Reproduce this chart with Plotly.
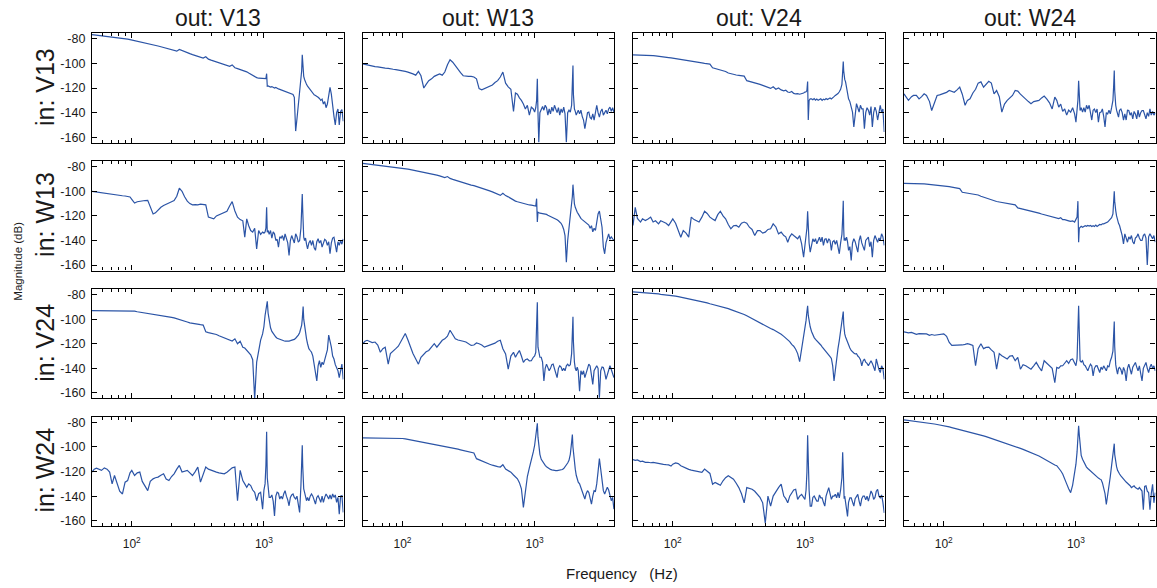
import math
import plotly.graph_objects as go

# ---------------- data ----------------
FREQ_HZ = [
    50, 52, 54, 57, 59, 62, 65, 68, 71, 74, 78, 81, 85, 89, 93, 97,
    100, 105, 110, 115, 120, 126, 132, 138, 145, 151, 158, 166, 174, 182, 191,
    200, 209, 219, 229, 240, 251, 263, 275, 288, 302, 316, 331, 347, 363, 380, 398,
    417, 437, 457, 479, 501, 525, 550, 575, 603, 631, 661, 692,
    716, 741, 767, 794, 822, 851, 881, 912, 944, 977,
    1000, 1020, 1035, 1048, 1060, 1075, 1096,
    1122, 1148, 1175, 1202, 1230, 1259, 1288, 1318, 1349, 1380, 1413, 1445, 1479, 1514, 1549, 1585, 1622, 1660, 1698, 1738, 1778, 1820, 1862,
    1905, 1930, 1950, 1965, 1980, 2000, 2030, 2065, 2100, 2138,
    2188, 2239, 2291, 2344, 2399, 2455, 2512, 2570, 2630, 2692, 2754, 2818, 2884, 2951, 3020, 3090, 3162, 3236, 3311, 3388, 3467, 3548, 3631, 3715, 3802, 3890, 3981,
]

IN_LABELS = ["V13", "W13", "V24", "W24"]
OUT_LABELS = ["V13", "W13", "V24", "W24"]

Y_TICK_VALS = [-160, -140, -120, -100, -80]
Y_TICK_TEXT = ["-160", "-140", "-120", "-100", "-80"]
X_TICK_VALS = [100, 1000]
X_TICK_TEXT = ["10<sup>2</sup>", "10<sup>3</sup>"]
X_MINOR_VALS = [60, 70, 80, 90, 200, 300, 400, 500, 600, 700, 800, 900, 2000, 3000, 4000]

# magnitude (dB), one list per panel: in_<row>_out_<col>
in_v13_out_v13 = [
    -76.5, -76.7, -76.9, -77.1, -77.3, -77.5, -77.8, -78.0, -78.3, -78.6, -78.9, -79.2, -79.5, -79.9, -80.2, -80.6,
    -80.9, -81.3, -81.7, -82.1, -82.5, -83.0, -83.5, -84.0, -84.6, -85.2, -85.8, -86.4, -87.0, -87.6, -88.2,
    -88.8, -89.4, -90.0, -88.6, -89.6, -90.5, -91.3, -92.0, -92.8, -93.5, -94.2, -95.0, -95.6, -94.5, -96.5, -97.3,
    -98.0, -98.7, -99.4, -100.0, -100.7, -101.4, -102.3, -101.2, -103.5, -104.2, -104.8, -105.5,
    -106.0, -106.8, -107.8, -108.8, -109.8, -110.8, -111.5, -112.0, -112.2, -112.3,
    -112.4, -112.4, -112.3, -108.3, -118.5, -118.3, -119.0,
    -119.2, -118.8, -119.6, -120.0, -119.5, -120.3, -120.7, -121.1, -121.5, -121.8, -122.2, -122.5, -122.8, -123.2, -123.6, -124.0, -124.5, -125.2, -127.5, -155.0, -145.0, -134.0, -125.0,
    -116.0, -106.0, -93.0, -100.0, -107.0, -110.5, -113.0, -115.5, -117.0, -118.5,
    -120.0, -122.0, -123.5, -124.5, -125.5, -126.0, -126.5, -127.5, -128.5, -130.0, -129.0, -133.0, -131.0, -136.0, -133.0, -127.0, -119.5, -125.0, -137.0, -143.0, -150.0, -140.0, -137.0, -150.0, -139.0, -137.5, -147.0,
]
in_v13_out_w13 = [
    -100.3, -100.8, -101.2, -101.8, -102.0, -102.5, -102.8, -103.3, -103.5, -103.8, -104.0, -104.5, -104.7, -105.0, -105.3, -105.5,
    -105.8, -106.5, -107.0, -107.5, -108.5, -109.5, -106.5, -110.0, -120.0, -117.0, -114.0, -112.5, -110.5, -109.5, -108.5,
    -109.5, -107.0, -101.0, -97.0, -99.0, -102.0, -104.5, -107.5, -110.0, -110.5, -110.5, -110.5, -111.0, -112.5, -120.5, -121.5,
    -120.5, -119.5, -118.5, -117.5, -115.5, -114.0, -111.0, -107.0, -116.0, -119.0, -121.0, -139.0,
    -124.0, -125.0, -128.0, -130.0, -133.0, -137.0, -134.0, -142.0, -135.5, -137.0,
    -139.5, -136.0, -130.0, -112.5, -140.0, -164.0, -140.0,
    -137.0, -135.0, -138.0, -134.0, -136.0, -142.0, -137.0, -141.0, -135.5, -139.0, -134.0, -137.5, -140.0, -136.0, -142.0, -137.0, -140.0, -135.5, -141.0, -164.0, -140.0, -138.0, -139.5,
    -134.0, -120.0, -101.7, -125.0, -131.5, -137.0, -139.0, -142.0, -140.0, -138.0,
    -141.0, -138.0, -143.0, -146.0, -153.0, -144.0, -140.0, -139.5, -144.0, -145.0, -141.0, -146.0, -139.0, -134.0, -140.0, -143.7, -139.0, -137.0, -142.0, -140.0, -138.0, -141.0, -137.0, -135.5, -139.0, -136.0, -139.6,
]
in_v13_out_v24 = [
    -93.0, -93.0, -93.1, -93.2, -93.2, -93.3, -93.4, -93.5, -93.6, -93.8, -94.0, -94.3, -94.6, -94.9, -95.2, -95.5,
    -95.7, -96.0, -96.3, -96.6, -97.0, -97.4, -97.6, -98.0, -98.5, -98.9, -99.3, -99.6, -100.0, -100.2, -100.5,
    -103.5, -104.0, -104.5, -105.0, -105.7, -106.5, -107.8, -108.5, -109.0, -109.4, -109.7, -110.0, -110.3, -114.0, -114.5, -115.0,
    -115.5, -116.0, -117.0, -117.8, -118.5, -119.2, -120.3, -119.0, -121.0, -120.0, -121.5, -122.2,
    -121.8, -123.2, -123.6, -122.8, -124.3, -124.8, -124.5, -125.0, -124.6, -124.0,
    -123.3, -123.0, -122.0, -114.7, -146.0, -130.0, -128.8,
    -128.8, -129.5, -128.5, -129.8, -129.0, -130.0, -129.5, -128.7, -130.0, -129.0, -129.6, -128.5, -129.3, -128.5, -128.0, -128.8, -127.5, -127.0, -126.0, -125.5, -124.5, -123.0, -121.0,
    -117.0, -107.0, -98.4, -106.0, -110.0, -113.0, -115.0, -120.0, -125.0, -128.8,
    -131.0, -135.0, -139.6, -151.7, -140.0, -132.7, -136.0, -139.6, -134.0, -137.0, -137.0, -153.0, -140.0, -136.0, -138.0, -142.0, -135.0, -151.7, -140.0, -135.5, -139.0, -146.0, -140.0, -134.0, -140.0, -137.0, -155.7,
]
in_v13_out_w24 = [
    -124.7, -127.0, -130.0, -127.0, -126.0, -126.0, -128.8, -127.0, -124.7, -126.0, -131.0, -138.3, -132.0, -126.0, -125.5, -124.7,
    -124.7, -123.5, -122.0, -122.5, -123.4, -121.5, -119.3, -125.0, -134.0, -130.0, -128.8, -124.0, -121.0, -116.0, -115.0,
    -119.3, -117.0, -114.5, -116.0, -124.7, -122.0, -127.0, -139.6, -133.0, -130.0, -128.0, -126.0, -122.0, -122.5, -125.0, -127.4,
    -129.0, -131.0, -132.7, -131.0, -130.5, -130.0, -128.0, -126.5, -129.0, -132.0, -137.0, -127.4,
    -130.0, -135.5, -133.0, -139.0, -137.0, -142.0, -138.0, -139.6, -136.0, -141.0,
    -147.7, -140.0, -130.0, -114.0, -125.0, -138.3, -136.0,
    -139.6, -136.0, -139.6, -134.0, -137.0, -134.0, -141.0, -146.0, -138.0, -137.0, -140.0, -137.0, -147.7, -140.0, -139.6, -137.0, -143.0, -151.7, -140.0, -141.0, -138.0, -141.0, -136.0,
    -130.0, -118.0, -105.7, -122.0, -134.0, -134.0, -138.0, -141.0, -143.7, -138.0,
    -137.0, -140.0, -146.0, -141.0, -146.0, -138.0, -138.3, -142.0, -140.0, -145.0, -139.0, -141.0, -145.0, -138.0, -143.7, -140.0, -138.3, -138.3, -142.0, -145.0, -140.0, -143.0, -137.0, -142.0, -139.0, -142.0, -140.0,
]
in_w13_out_v13 = [
    -100.0, -100.3, -100.7, -101.0, -101.4, -101.6, -102.0, -102.3, -102.6, -102.8, -103.0, -103.3, -103.6, -103.8, -104.2, -104.6,
    -106.5, -109.5, -108.5, -108.0, -107.8, -107.5, -107.3, -112.0, -118.4, -117.5, -115.0, -113.0, -111.6, -110.5, -109.0,
    -108.5, -107.6, -104.0, -97.5, -100.0, -104.5, -108.0, -110.0, -111.0, -110.8, -111.0, -110.5, -110.8, -111.0, -121.0, -122.0,
    -122.4, -120.0, -119.0, -118.4, -117.5, -116.2, -112.0, -108.4, -116.0, -121.0, -123.0, -124.0,
    -137.3, -122.4, -128.0, -131.9, -133.2, -130.0, -146.8, -131.9, -135.0, -133.2,
    -134.0, -133.0, -130.0, -113.0, -133.2, -131.9, -135.0,
    -131.9, -138.0, -133.0, -134.6, -140.0, -139.0, -145.4, -137.0, -138.0, -136.0, -140.0, -134.6, -139.0, -142.0, -152.2, -140.0, -136.0, -138.6, -142.0, -134.6, -137.0, -141.4, -140.0,
    -130.0, -115.0, -102.2, -115.0, -135.0, -137.3, -140.0, -138.0, -143.0, -146.8,
    -142.0, -140.0, -144.0, -140.0, -146.0, -148.0, -141.0, -138.6, -142.0, -140.0, -145.4, -142.0, -139.0, -140.0, -144.0, -141.0, -150.8, -142.0, -138.0, -137.3, -143.0, -149.5, -141.0, -144.0, -140.0, -143.0, -138.6,
]
in_w13_out_w13 = [
    -77.3, -77.5, -77.7, -78.0, -78.2, -78.4, -78.6, -78.9, -79.1, -79.4, -79.7, -80.0, -80.3, -80.5, -80.8, -81.0,
    -81.2, -81.6, -81.9, -82.3, -82.7, -83.0, -83.4, -83.8, -84.4, -84.8, -85.3, -85.8, -86.3, -86.8, -87.5,
    -88.2, -88.8, -88.0, -89.5, -90.3, -91.0, -91.8, -92.7, -93.3, -93.8, -94.3, -95.0, -95.4, -96.0, -96.8, -97.6,
    -98.3, -99.0, -99.7, -100.5, -101.3, -102.5, -103.3, -101.6, -103.5, -104.5, -105.8, -107.4,
    -108.0, -108.5, -109.0, -109.5, -110.0, -110.4, -110.8, -111.1, -111.3, -111.6,
    -111.8, -112.0, -106.0, -125.0, -117.0, -117.5, -117.8,
    -118.0, -118.2, -118.0, -118.4, -118.8, -119.5, -120.0, -120.3, -120.7, -121.0, -121.8, -122.5, -123.2, -124.0, -125.0, -126.0, -128.0, -131.0, -136.0, -157.6, -140.0, -130.0, -121.0,
    -113.0, -104.0, -94.6, -103.0, -108.0, -110.3, -113.0, -115.5, -117.0, -118.4,
    -120.5, -122.0, -123.0, -123.8, -124.8, -125.5, -126.5, -127.5, -130.0, -128.0, -133.0, -130.0, -131.9, -125.0, -118.4, -116.0, -122.0, -129.2, -145.4, -150.8, -142.0, -137.0, -134.6, -139.0, -137.0, -138.6, -140.0,
]
in_w13_out_v24 = [
    -127.8, -113.0, -122.0, -125.0, -122.4, -123.8, -122.5, -121.0, -125.0, -124.0, -126.5, -124.0, -125.0, -126.0, -127.8, -124.0,
    -122.4, -126.0, -131.9, -137.3, -131.9, -134.0, -137.3, -121.0, -123.0, -123.8, -125.0, -121.0, -116.2, -118.0, -121.0,
    -122.5, -123.8, -119.0, -116.2, -120.0, -122.4, -127.0, -130.5, -128.0, -127.8, -129.2, -126.0, -125.0, -126.0, -129.2, -131.0,
    -136.0, -132.0, -131.9, -134.0, -133.2, -131.0, -130.5, -126.5, -129.0, -134.6, -133.2, -136.0,
    -137.0, -141.4, -137.0, -134.6, -136.0, -137.3, -138.6, -136.0, -142.7, -153.5,
    -142.7, -139.0, -130.0, -116.2, -136.0, -142.0, -149.5,
    -143.0, -138.6, -141.0, -138.6, -142.7, -140.0, -137.3, -141.0, -137.3, -144.0, -139.0, -138.6, -142.0, -138.6, -140.0, -148.0, -141.0, -140.0, -143.0, -140.0, -146.0, -150.8, -142.0,
    -135.0, -122.0, -107.6, -130.0, -140.0, -138.0, -140.0, -137.3, -141.0, -148.0,
    -145.0, -156.2, -142.0, -138.6, -141.0, -146.0, -149.5, -140.0, -136.0, -142.0, -145.0, -148.0, -140.0, -139.0, -137.3, -145.0, -141.0, -153.5, -140.0, -136.0, -139.0, -141.4, -138.0, -140.0, -134.6, -137.0, -144.0,
]
in_w13_out_w24 = [
    -93.5, -93.5, -93.5, -93.5, -93.5, -93.5, -93.6, -93.8, -94.0, -94.2, -94.4, -94.6, -94.8, -95.0, -95.2, -95.3,
    -95.4, -95.8, -96.2, -96.6, -97.0, -97.4, -97.8, -100.8, -101.2, -101.6, -102.0, -102.3, -102.6, -103.0, -104.0,
    -104.8, -105.6, -106.5, -107.3, -107.8, -108.3, -108.7, -109.0, -109.5, -110.0, -110.4, -110.8, -111.0, -113.5, -114.0, -114.5,
    -115.0, -115.3, -115.8, -116.5, -117.0, -117.8, -118.5, -119.0, -119.7, -120.3, -120.5, -121.5,
    -122.0, -122.2, -121.5, -123.0, -123.0, -123.8, -124.0, -124.5, -124.0, -125.0,
    -122.4, -121.0, -108.0, -141.4, -130.0, -129.2, -128.5,
    -129.2, -128.8, -128.0, -128.5, -127.8, -128.3, -127.8, -128.6, -128.0, -128.6, -127.5, -128.6, -127.5, -127.0, -127.3, -126.5, -126.5, -126.0, -125.5, -125.0, -123.8, -123.0, -121.5,
    -118.4, -110.0, -100.0, -108.0, -113.0, -115.7, -120.0, -124.0, -126.0, -127.8,
    -132.0, -136.0, -142.7, -134.6, -138.0, -141.4, -137.0, -139.0, -136.0, -141.0, -142.7, -138.0, -137.0, -134.6, -138.0, -140.0, -140.0, -136.0, -134.6, -138.0, -160.0, -137.0, -134.6, -137.0, -138.6, -136.0, -141.4,
]
in_v24_out_v13 = [
    -93.0, -93.0, -93.0, -93.0, -93.0, -93.0, -93.0, -93.0, -93.0, -93.0, -93.0, -93.0, -93.0, -93.0, -93.0, -93.0,
    -93.0, -93.5, -94.0, -94.3, -94.6, -95.0, -95.4, -95.8, -96.1, -96.4, -96.8, -97.2, -97.6, -98.0, -98.3,
    -98.5, -99.0, -99.6, -100.0, -100.8, -101.5, -102.3, -103.0, -103.5, -104.0, -104.3, -104.5, -104.8, -110.3, -111.0, -111.5,
    -111.7, -112.5, -113.5, -114.5, -115.5, -116.5, -117.5, -117.8, -116.0, -120.0, -118.0, -122.8,
    -123.5, -125.5, -127.0, -129.0, -133.0, -165.0, -135.0, -124.0, -117.0, -112.0,
    -106.0, -97.0, -92.0, -88.0, -85.5, -95.0, -102.0,
    -107.0, -110.0, -111.7, -113.5, -114.5, -115.5, -116.0, -116.5, -117.0, -117.3, -117.6, -117.8, -118.0, -118.0, -117.8, -117.5, -117.2, -117.0, -116.5, -115.5, -114.5, -113.0, -111.0,
    -108.0, -104.8, -100.0, -94.0, -89.7, -100.0, -106.0, -111.0, -116.0, -120.0,
    -124.0, -125.5, -126.9, -130.0, -136.6, -140.0, -150.3, -138.0, -133.8, -139.3, -135.0, -137.0, -132.4, -130.0, -125.0, -113.0, -117.0, -122.8, -130.0, -132.4, -137.0, -139.3, -142.0, -147.6, -140.0, -136.6, -149.0,
]
in_v24_out_w13 = [
    -120.0, -118.0, -117.2, -118.0, -119.0, -118.6, -121.0, -126.9, -124.0, -122.8, -136.6, -128.0, -125.5, -124.0, -122.0, -118.0,
    -115.9, -111.7, -117.0, -122.8, -128.0, -132.4, -136.6, -131.0, -128.0, -126.5, -125.5, -123.0, -120.0, -122.8, -120.0,
    -117.2, -116.0, -113.8, -109.0, -113.0, -115.9, -117.0, -117.2, -118.0, -118.6, -120.0, -121.4, -121.0, -119.4, -120.0, -121.0,
    -122.8, -122.0, -121.0, -120.0, -119.5, -118.0, -117.2, -124.0, -128.3, -140.7, -130.0, -126.9,
    -131.0, -128.0, -125.5, -130.0, -135.2, -133.0, -132.4, -134.0, -133.8, -131.0,
    -130.0, -127.0, -112.0, -86.3, -122.8, -128.0, -131.0,
    -131.0, -135.0, -150.3, -140.0, -136.6, -139.0, -142.0, -140.0, -137.0, -136.6, -140.0, -143.0, -147.6, -140.0, -137.9, -139.0, -142.0, -140.0, -142.0, -138.0, -136.6, -138.0, -137.0,
    -128.0, -112.0, -98.0, -118.0, -128.3, -135.0, -140.0, -142.0, -139.0, -142.0,
    -158.6, -142.0, -145.0, -142.0, -147.6, -144.0, -140.0, -136.6, -138.0, -145.0, -153.0, -142.0, -140.0, -137.9, -140.0, -164.0, -142.0, -139.0, -139.3, -143.0, -149.0, -145.0, -140.0, -137.9, -141.0, -144.0, -147.6,
]
in_v24_out_v24 = [
    -77.8, -77.9, -78.0, -78.2, -78.3, -78.5, -78.6, -78.8, -79.0, -79.3, -79.5, -79.8, -80.0, -80.2, -80.5, -80.7,
    -80.8, -81.3, -81.7, -82.1, -82.6, -83.0, -83.4, -83.9, -84.5, -85.0, -85.5, -86.0, -86.3, -86.8, -87.5,
    -88.0, -88.5, -89.1, -89.7, -90.2, -90.8, -91.5, -92.2, -92.9, -93.6, -94.4, -95.2, -96.2, -97.3, -98.5, -99.8,
    -101.0, -102.0, -103.0, -104.2, -105.5, -106.7, -107.6, -108.5, -109.7, -111.0, -112.3, -114.0,
    -115.3, -116.7, -118.2, -120.5, -122.0, -124.5, -128.0, -134.6, -124.0, -116.0,
    -109.0, -101.0, -94.0, -89.1, -97.0, -103.0, -106.2,
    -110.0, -113.5, -115.0, -116.5, -117.5, -118.3, -119.5, -121.0, -122.5, -123.8, -125.0, -126.2, -127.0, -128.5, -130.5, -132.0, -138.0, -150.3, -140.0, -132.0, -124.0, -117.2, -110.0,
    -102.0, -95.2, -93.8, -104.0, -110.0, -112.0, -114.5, -117.0, -119.0, -121.4,
    -123.5, -125.5, -126.9, -127.5, -128.3, -128.0, -130.0, -131.0, -133.0, -137.9, -134.0, -132.4, -135.0, -136.0, -137.9, -136.0, -133.8, -136.0, -140.0, -142.0, -132.4, -138.0, -141.0, -143.4, -138.0, -140.0, -149.0,
]
in_v24_out_w24 = [
    -110.3, -111.0, -111.2, -110.8, -111.5, -112.3, -111.8, -111.7, -112.2, -112.0, -113.1, -112.5, -113.1, -112.8, -112.5, -111.7,
    -112.0, -114.0, -119.0, -121.4, -121.4, -121.4, -121.4, -121.0, -120.5, -120.0, -120.5, -121.4, -137.9, -124.0, -120.0,
    -124.0, -123.0, -122.8, -125.0, -126.9, -140.7, -128.0, -129.7, -131.0, -132.4, -130.0, -129.7, -133.8, -131.0, -140.7, -137.0,
    -137.9, -139.0, -140.7, -138.0, -135.2, -139.0, -142.0, -133.8, -136.0, -137.9, -140.0, -151.7,
    -139.3, -140.0, -138.0, -137.9, -136.0, -133.8, -136.0, -133.0, -132.4, -135.0,
    -137.9, -132.0, -115.0, -89.1, -110.0, -133.8, -135.0,
    -133.8, -137.0, -137.9, -140.0, -142.0, -139.0, -136.6, -138.0, -146.2, -140.0, -138.0, -137.9, -141.0, -143.4, -139.0, -141.0, -138.0, -140.7, -142.0, -138.0, -139.0, -134.0, -131.0,
    -126.0, -112.0, -102.0, -122.0, -133.8, -137.0, -141.0, -144.8, -140.0, -139.3,
    -141.0, -145.0, -139.3, -142.0, -150.3, -140.0, -136.6, -141.0, -144.8, -139.0, -137.0, -135.2, -139.0, -142.0, -138.0, -145.0, -150.3, -140.0, -138.0, -135.2, -140.0, -143.4, -139.0, -136.6, -140.0, -138.0, -142.0,
]
in_w24_out_v13 = [
    -120.4, -118.0, -117.2, -118.5, -119.0, -117.0, -118.0, -120.4, -130.0, -123.2, -131.4, -136.0, -138.2, -128.6, -127.3, -121.0,
    -119.0, -123.2, -121.0, -120.4, -128.0, -131.4, -135.5, -128.0, -125.9, -125.0, -124.5, -123.0, -121.8, -126.0, -127.3,
    -124.0, -121.8, -118.0, -115.0, -120.4, -120.0, -119.0, -121.0, -123.2, -120.0, -116.3, -128.6, -122.0, -116.3, -118.0, -119.0,
    -119.5, -120.4, -121.0, -121.5, -121.8, -120.5, -119.0, -117.0, -116.3, -143.7, -119.0, -127.3,
    -130.0, -132.7, -130.0, -131.4, -135.0, -136.8, -143.7, -138.0, -136.8, -150.5,
    -135.0, -130.0, -115.0, -87.7, -125.0, -134.0, -141.0,
    -141.0, -139.0, -144.0, -156.0, -140.0, -136.8, -137.5, -142.3, -140.0, -142.3, -138.0, -135.5, -140.0, -143.0, -147.8, -141.0, -139.0, -138.2, -141.0, -142.3, -140.0, -146.0, -153.2,
    -131.4, -115.0, -98.6, -115.0, -130.0, -134.0, -137.0, -140.0, -143.7, -141.0,
    -143.7, -140.0, -138.2, -140.0, -144.0, -146.4, -141.0, -139.6, -142.0, -145.0, -140.0, -145.0, -141.0, -138.2, -140.0, -142.3, -139.0, -142.3, -138.2, -141.0, -139.0, -145.0, -141.0, -154.6, -140.0, -139.6, -153.2,
]
in_w24_out_w13 = [
    -92.6, -92.6, -92.6, -92.6, -92.6, -92.6, -92.6, -92.6, -92.7, -92.7, -92.8, -92.8, -92.9, -92.9, -93.0, -93.0,
    -93.1, -93.4, -93.8, -94.2, -94.6, -95.0, -95.4, -95.8, -96.3, -96.7, -97.1, -97.5, -97.9, -98.3, -98.8,
    -99.2, -99.6, -100.0, -100.4, -100.8, -101.3, -101.8, -102.3, -102.8, -103.3, -103.7, -104.2, -104.9, -109.5, -110.5, -111.5,
    -112.5, -113.2, -114.0, -114.8, -115.5, -116.0, -116.3, -114.4, -118.0, -119.5, -120.5, -122.8,
    -124.5, -125.9, -129.0, -134.0, -149.1, -136.8, -124.0, -117.0, -111.0, -104.0,
    -98.6, -92.0, -86.0, -80.8, -92.0, -101.3, -106.0,
    -110.0, -112.0, -113.6, -115.0, -116.0, -117.0, -117.7, -118.2, -118.6, -119.0, -119.0, -119.2, -119.2, -119.0, -119.0, -118.7, -118.3, -117.5, -116.3, -115.0, -113.0, -110.9, -106.0,
    -96.0, -89.8, -100.0, -104.0, -106.8, -112.0, -118.0, -123.0, -126.0, -128.6,
    -130.0, -132.7, -136.0, -138.0, -142.3, -138.0, -135.5, -137.0, -141.0, -146.4, -140.0, -135.5, -136.0, -130.0, -120.0, -109.5, -118.0, -130.0, -135.5, -138.2, -136.0, -132.7, -135.0, -140.0, -143.7, -141.0, -150.5,
]
in_w24_out_v24 = [
    -110.2, -110.8, -110.5, -111.9, -111.5, -112.5, -112.4, -112.8, -112.5, -113.0, -113.4, -113.8, -114.1, -114.4, -114.6, -115.5,
    -114.0, -113.0, -113.5, -115.2, -116.3, -117.5, -118.2, -118.8, -119.3, -119.8, -120.3, -120.7, -117.9, -119.5, -121.5,
    -130.3, -128.9, -130.0, -131.1, -127.5, -125.0, -123.4, -124.5, -126.2, -129.5, -133.0, -138.0, -145.4, -133.0, -133.5, -134.4,
    -136.0, -138.5, -141.0, -145.4, -161.9, -139.9, -148.1, -139.9, -136.0, -133.0, -130.3, -139.9,
    -142.0, -145.4, -140.0, -137.1, -135.0, -134.4, -142.6, -140.0, -138.5, -141.0,
    -142.6, -135.0, -120.7, -90.4, -120.7, -135.0, -148.1,
    -148.1, -141.0, -139.9, -142.0, -144.0, -144.0, -139.0, -141.3, -141.3, -145.0, -148.1, -140.0, -136.0, -133.0, -138.0, -142.6, -140.0, -139.9, -138.5, -141.3, -137.0, -141.3, -135.0,
    -125.0, -104.2, -120.0, -139.9, -142.0, -139.9, -145.0, -150.0, -156.4, -145.0,
    -141.3, -141.3, -144.0, -148.1, -142.0, -140.0, -138.5, -144.0, -148.1, -142.0, -139.9, -139.9, -143.0, -140.0, -144.0, -140.0, -135.8, -138.0, -142.6, -141.0, -136.0, -134.4, -140.0, -141.3, -139.0, -145.0, -153.6,
]
in_w24_out_w24 = [
    -78.0, -78.2, -78.4, -78.7, -78.9, -79.1, -79.4, -79.7, -80.0, -80.3, -80.6, -80.9, -81.3, -81.7, -82.0, -82.4,
    -82.7, -83.2, -83.7, -84.2, -84.7, -85.2, -85.7, -86.2, -86.7, -87.2, -87.7, -88.3, -89.0, -89.7, -90.4,
    -91.0, -91.6, -92.3, -93.0, -93.7, -94.4, -95.1, -95.8, -96.5, -97.2, -97.9, -98.7, -99.5, -100.3, -101.1, -101.9,
    -102.7, -103.5, -104.3, -105.2, -106.2, -107.3, -108.5, -109.8, -111.2, -112.6, -113.8, -114.6,
    -115.2, -117.0, -119.3, -122.0, -125.5, -130.0, -134.0, -137.1, -131.0, -122.0,
    -114.0, -104.0, -92.0, -82.7, -90.0, -101.0, -106.9,
    -110.0, -112.5, -114.5, -116.3, -117.5, -118.5, -119.7, -120.6, -121.8, -123.0, -124.0, -124.8, -125.3, -126.0, -126.5, -129.0, -133.0, -138.0, -146.8, -140.0, -131.6, -124.0, -115.0,
    -106.0, -100.0, -97.3, -106.0, -109.7, -113.0, -116.0, -119.0, -121.0, -122.0,
    -123.5, -125.0, -126.2, -127.0, -128.5, -129.5, -130.3, -131.5, -133.0, -132.0, -131.6, -133.0, -134.0, -134.4, -133.0, -135.0, -135.8, -151.0, -132.0, -131.6, -136.0, -137.1, -151.0, -138.0, -130.3, -145.4, -137.1,
]

PANELS = [
    [in_v13_out_v13, in_v13_out_w13, in_v13_out_v24, in_v13_out_w24],
    [in_w13_out_v13, in_w13_out_w13, in_w13_out_v24, in_w13_out_w24],
    [in_v24_out_v13, in_v24_out_w13, in_v24_out_v24, in_v24_out_w24],
    [in_w24_out_v13, in_w24_out_w13, in_w24_out_v24, in_w24_out_w24],
]

for r_, row_ in enumerate(PANELS):
    for c_, p_ in enumerate(row_):
        assert len(p_) == len(FREQ_HZ), (r_, c_, len(p_), len(FREQ_HZ))

# ---------------- layout ----------------
W, H = 1157, 588
COL_LEFT = [92.0, 362.7, 633.0, 904.0]
COL_W = 251.5
ROW_TOP = [32.5, 161.0, 289.5, 418.0]
ROW_H = 110.0
LINE_COLOR = "#2B54A6"
FONT = "Liberation Sans, Arial, Helvetica, sans-serif"
TXT = "#1a1a1a"

fig = go.Figure()
annotations = []

for r in range(4):
    for c in range(4):
        k = r * 4 + c + 1
        sfx = "" if k == 1 else str(k)
        fig.add_trace(go.Scatter(
            x=FREQ_HZ, y=PANELS[r][c], mode="lines",
            line=dict(color=LINE_COLOR, width=1.2),
            xaxis="x" + sfx, yaxis="y" + sfx,
            showlegend=False, hoverinfo="skip",
        ))
        x0 = COL_LEFT[c] / W
        x1 = (COL_LEFT[c] + COL_W) / W
        y1 = 1 - ROW_TOP[r] / H
        y0 = 1 - (ROW_TOP[r] + ROW_H) / H
        fig.update_layout(**{
            "xaxis" + sfx: dict(
                type="log", domain=[x0, x1], anchor="y" + sfx,
                range=[math.log10(50), math.log10(4000)],
                tickmode="array", tickvals=X_TICK_VALS, ticktext=X_TICK_TEXT,
                ticks="inside", ticklen=5, tickwidth=1, tickcolor="black",
                minor=dict(tickmode="array", tickvals=X_MINOR_VALS, ticks="inside",
                           ticklen=3, tickwidth=1, tickcolor="black", showgrid=False),
                showticklabels=(r == 3),
                tickfont=dict(family=FONT, size=12, color=TXT),
                ticklabelstandoff=6,
                showline=True, linecolor="black", linewidth=1.3, mirror="ticks",
                showgrid=False, zeroline=False, fixedrange=True,
            ),
            "yaxis" + sfx: dict(
                domain=[y0, y1], anchor="x" + sfx,
                range=[-164.5, -75.5],
                tickmode="array", tickvals=Y_TICK_VALS, ticktext=Y_TICK_TEXT,
                ticks="inside", ticklen=5, tickwidth=1, tickcolor="black",
                showticklabels=(c == 0),
                tickfont=dict(family=FONT, size=12.5, color=TXT),
                ticklabelstandoff=3,
                showline=True, linecolor="black", linewidth=1.3, mirror="ticks",
                showgrid=False, zeroline=False, fixedrange=True,
            ),
        })

for c, lab in enumerate(OUT_LABELS):
    annotations.append(dict(
        text="out: " + lab, x=(COL_LEFT[c] + COL_W / 2) / W, y=1 - 17 / H,
        xref="paper", yref="paper", xanchor="center", yanchor="middle",
        showarrow=False, font=dict(family=FONT, size=23, color=TXT),
    ))
for r, lab in enumerate(IN_LABELS):
    annotations.append(dict(
        text="in: " + lab, x=45 / W, y=1 - (ROW_TOP[r] + ROW_H / 2 - 1) / H,
        xref="paper", yref="paper", xanchor="center", yanchor="middle",
        textangle=-90, showarrow=False, font=dict(family=FONT, size=25, color=TXT),
    ))
annotations.append(dict(
    text="Magnitude (dB)", x=18 / W, y=1 - 262 / H,
    xref="paper", yref="paper", xanchor="center", yanchor="middle",
    textangle=-90, showarrow=False, font=dict(family=FONT, size=11.5, color=TXT),
))
annotations.append(dict(
    text="Frequency&nbsp;&nbsp; (Hz)", x=622 / W, y=1 - 575 / H,
    xref="paper", yref="paper", xanchor="center", yanchor="middle",
    showarrow=False, font=dict(family=FONT, size=15, color=TXT),
))

fig.update_layout(
    width=W, height=H, autosize=False,
    margin=dict(l=0, r=0, t=0, b=0),
    paper_bgcolor="white", plot_bgcolor="white",
    annotations=annotations,
    font=dict(family=FONT, color=TXT),
)

fig.write_html("out.html", config={"displayModeBar": False})
